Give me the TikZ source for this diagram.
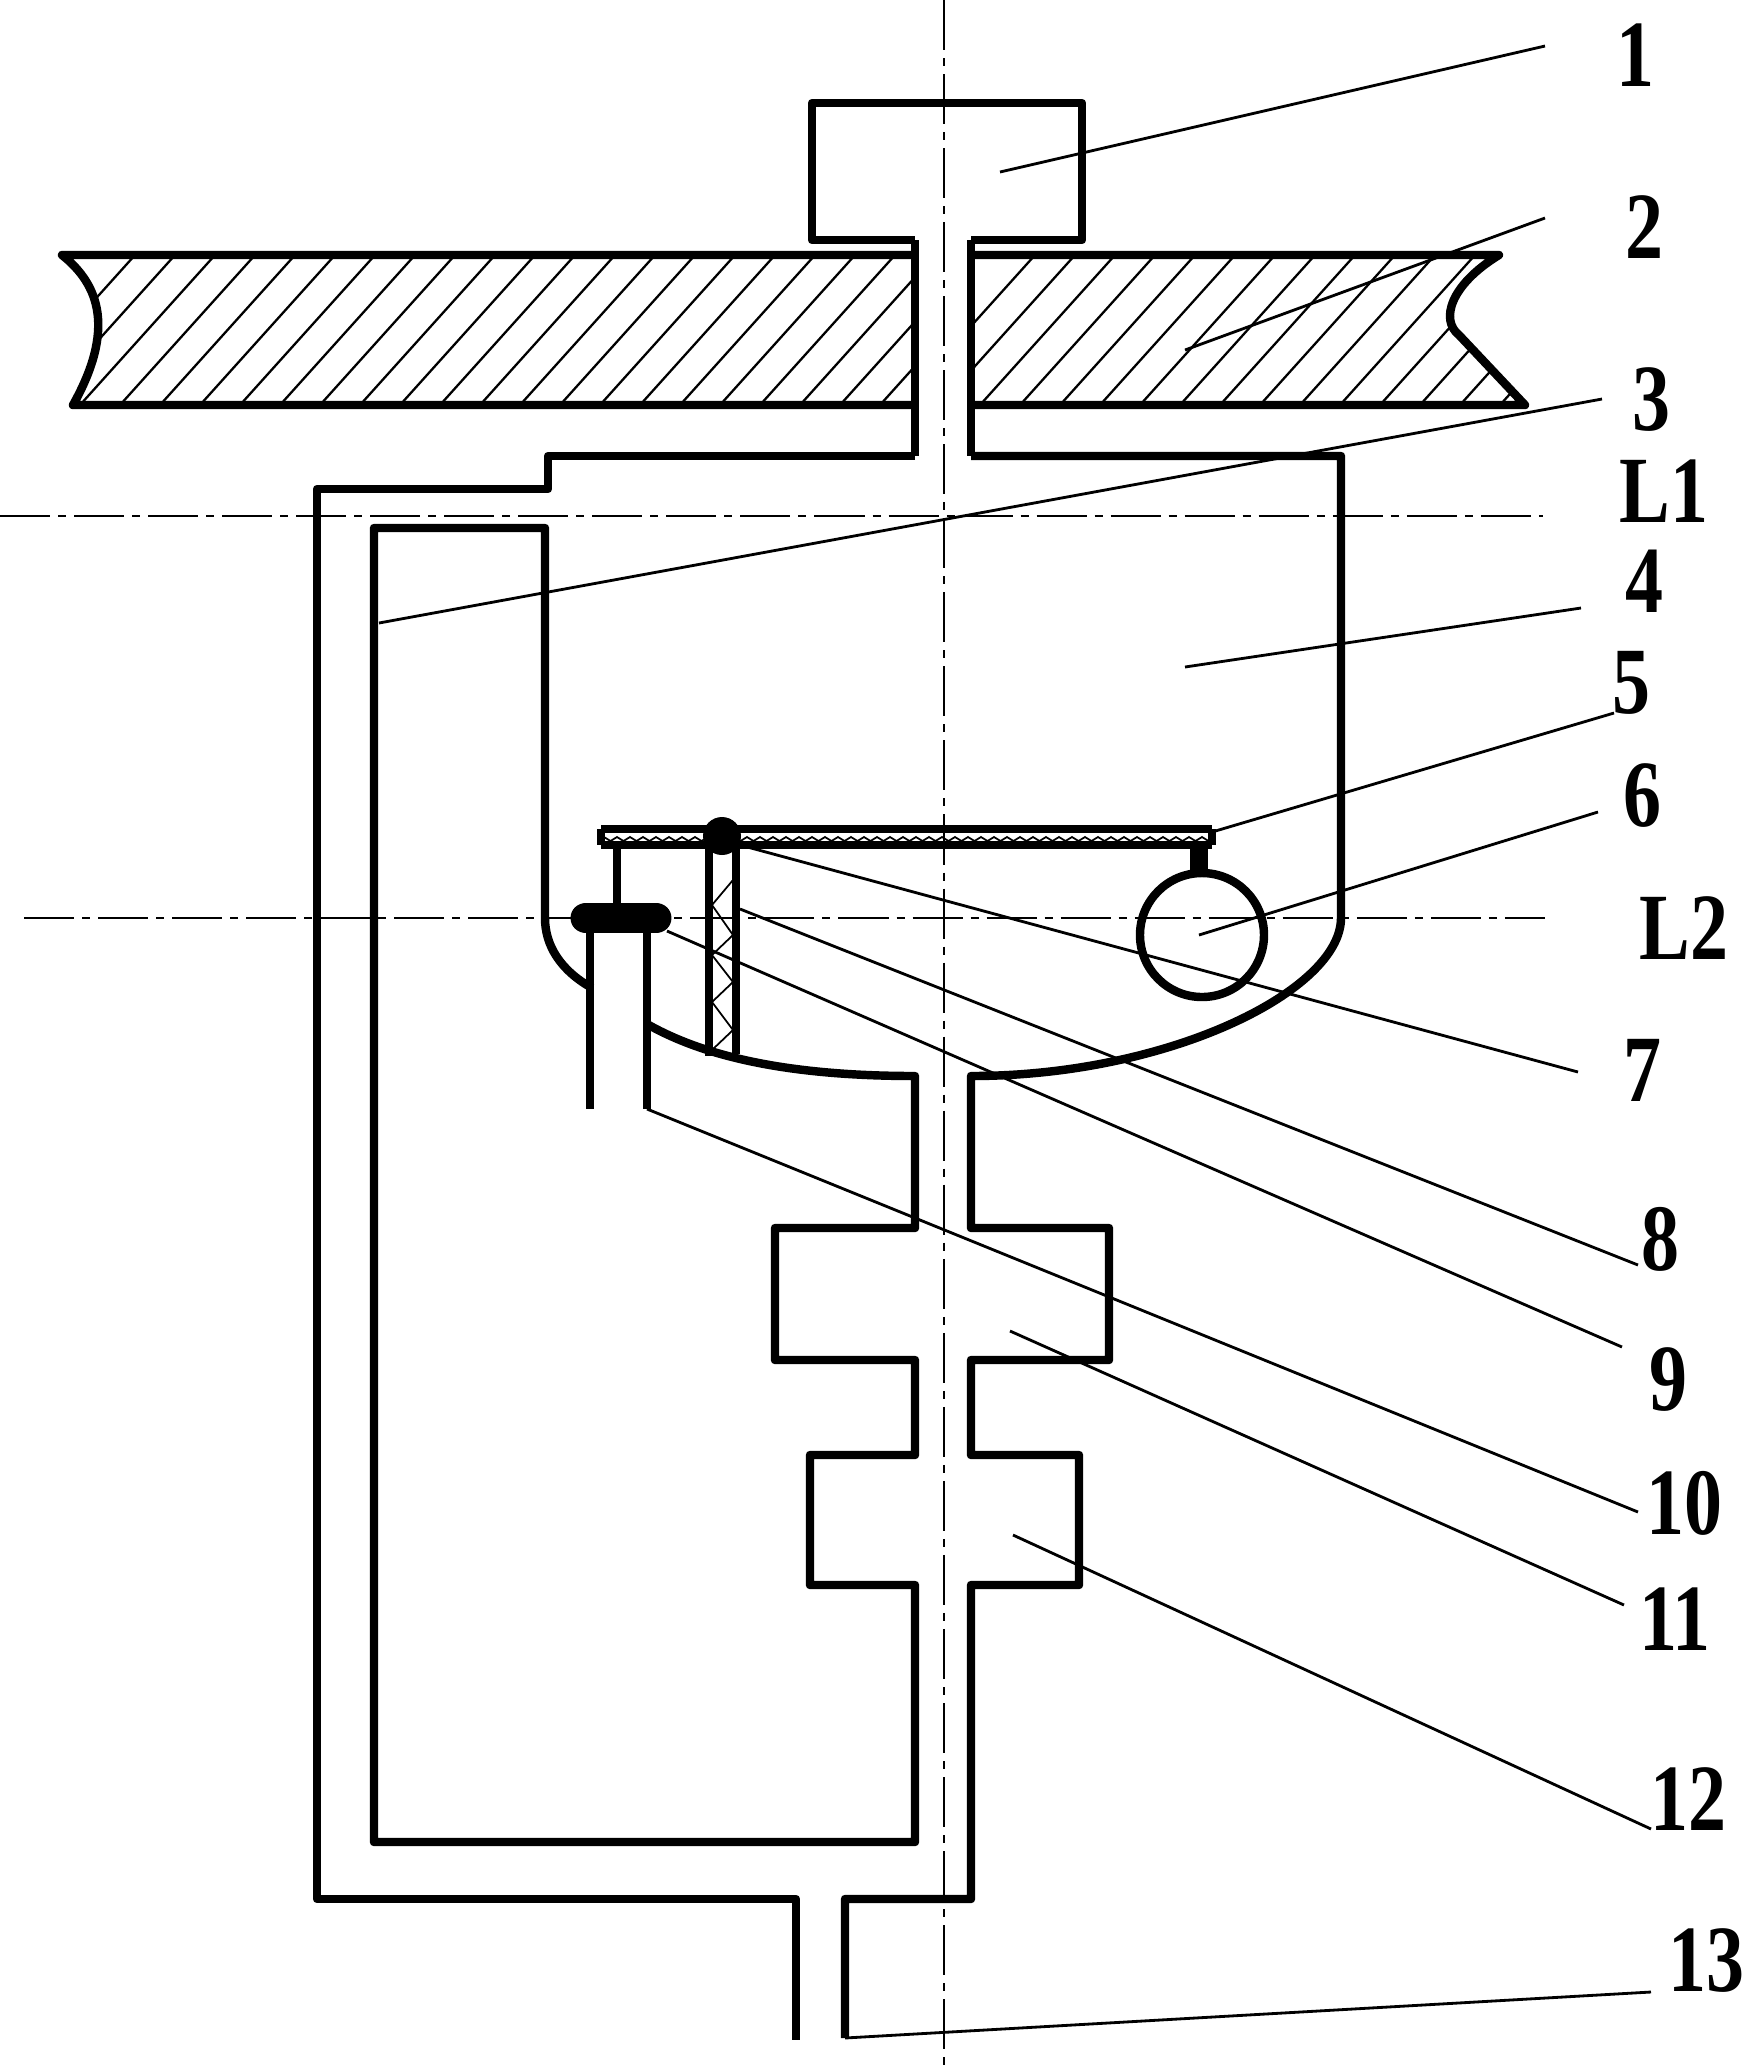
\documentclass[tikz,border=0pt]{standalone}
\usepackage{fontspec}
\setmainfont{Liberation Serif}
\tikzset{
	wall/.style={line width=2.4pt, line join=round},
	leader/.style={line width=0.8pt},
	hatching/.style={line width=0.65pt},
	center line/.style={line width=0.8pt, dash pattern=on 0.5cm off 0.08cm on 0.08cm off 0.08cm},
	num/.style={font=\fontsize{27}{27}\selectfont\bfseries, inner sep=0pt, xscale=0.8, transform shape},
}
\begin{document}
\begin{tikzpicture}[x=0.01cm, y=-0.01cm]
	\useasboundingbox (0,0) rectangle (1746,2071);
	%% hatching of the plate
	\begin{scope}
		\clip (62,255) .. controls (100,285) and (115,330) .. (73,405) -- (915,405) -- (915,255) -- cycle;
		\foreach \hx in {0,40,...,1000} \draw[hatching] (\hx,405) -- (\hx+135,255);
	\end{scope}
	\begin{scope}
		\clip (971,255) -- (1499,255) .. controls (1450,285) and (1440,320) .. (1459,335) -- (1525,405) -- (971,405) -- cycle;
		\foreach \hx in {900,940,...,1540} \draw[hatching] (\hx,405) -- (\hx+135,255);
	\end{scope}
	%% plate
	\draw[wall] (915,240) -- (915,456);
	\draw[wall] (971,240) -- (971,456);
	\draw[wall] (915,255) -- (62,255) .. controls (100,285) and (115,330) .. (73,405) -- (915,405);
	\draw[wall] (971,255) -- (1499,255) .. controls (1450,285) and (1440,320) .. (1459,335) -- (1525,405) -- (971,405);
	%% head
	\draw[wall] (915,240) -- (812,240) -- (812,103) -- (1082,103) -- (1082,240) -- (971,240);
	%% outer body
	\draw[wall] (915,456) -- (548,456) -- (548,489) -- (317,489) -- (317,1899) -- (796,1899) -- (796,2040);
	\draw[wall] (971,456) -- (1341,456) -- (1341,918) .. controls (1341,990) and (1170,1076) .. (971,1076) -- (971,1228) -- (1109,1228) -- (1109,1360) -- (971,1360) -- (971,1455) -- (1079,1455) -- (1079,1585) -- (971,1585) -- (971,1899) -- (845,1899) -- (845,2038);
	%% inner body
	\draw[wall] (592,988) .. controls (560,970) and (545,945) .. (545,918) -- (545,528) -- (374,528) -- (374,1842) -- (915,1842) -- (915,1585) -- (810,1585) -- (810,1455) -- (915,1455) -- (915,1360) -- (775,1360) -- (775,1228) -- (915,1228) -- (915,1076) .. controls (800,1076) and (710,1060) .. (647,1024);
	%% tube and float
	\draw[wall] (590,925) -- (590,1109);
	\draw[wall] (647,925) -- (647,1109);
	\draw[line width=8.8pt, line cap=round] (586,918) -- (656,918);
	\draw[wall] (617,845) -- (617,905);
	%% lever
	\draw[wall] (601,829) -- (1212,829);
	\draw[wall] (601,845) -- (1212,845);
	\draw[wall] (601,829) -- (601,845);
	\draw[wall] (1212,829) -- (1212,845);
	\draw[line width=0.5pt] (604,837) \foreach \zx in {0,1,...,46} {-- ++(6.5,4) -- ++(6.5,-4)};
	\draw[line width=5pt] (1199,845) -- (1199,873);
	\draw[wall] (1202,935) circle[radius=62];
	%% column
	\draw[wall] (709,845) -- (709,1056);
	\draw[wall] (736,845) -- (736,1054);
	\draw[line width=0.5pt] (712,1050) -- (733,1030) -- (712,1002) -- (733,982) -- (712,955) -- (733,935) -- (712,905) -- (733,880);
	\fill (722,836) circle[radius=19];
	%% center lines
	\draw[center line] (0,516) -- (1543,516);
	\draw[center line] (24,918) -- (1545,918);
	\draw[center line] (944,0) -- (944,2071);
	%% leaders
	\coordinate (a1) at (1545,46);
	\coordinate (b1) at (1000,172);
	\coordinate (a2) at (1545,218);
	\coordinate (b2) at (1185,350);
	\coordinate (a3) at (1602,399);
	\coordinate (b3) at (379,623);
	\coordinate (a4) at (1581,608);
	\coordinate (b4) at (1185,667);
	\coordinate (a5) at (1614,713);
	\coordinate (b5) at (1212,832);
	\coordinate (a6) at (1598,812);
	\coordinate (b6) at (1199,935);
	\coordinate (a7) at (1578,1072);
	\coordinate (b7) at (740,845);
	\coordinate (a8) at (1638,1265);
	\coordinate (b8) at (740,909);
	\coordinate (a9) at (1622,1347);
	\coordinate (b9) at (667,931);
	\coordinate (a10) at (1638,1512);
	\coordinate (b10) at (647,1109);
	\coordinate (a11) at (1624,1605);
	\coordinate (b11) at (1010,1331);
	\coordinate (a12) at (1651,1829);
	\coordinate (b12) at (1013,1535);
	\coordinate (a13) at (1651,1992);
	\coordinate (b13) at (845,2038);
	\draw[leader] (a1) -- (b1);
	\draw[leader] (a2) -- (b2);
	\draw[leader] (a3) -- (b3);
	\draw[leader] (a4) -- (b4);
	\draw[leader] (a5) -- (b5);
	\draw[leader] (a6) -- (b6);
	\draw[leader] (a7) -- (b7);
	\draw[leader] (a8) -- (b8);
	\draw[leader] (a9) -- (b9);
	\draw[leader] (a10) -- (b10);
	\draw[leader] (a11) -- (b11);
	\draw[leader] (a12) -- (b12);
	\draw[leader] (a13) -- (b13);
	%% labels
	\node[num] (n1) at (1635,55) {1};
	\node[num] (n2) at (1644,227) {2};
	\node[num] (n3) at (1651,400) {3};
	\node[num] (l1) at (1664,491) {L1};
	\node[num] (n4) at (1644,581) {4};
	\node[num] (n5) at (1631,683) {5};
	\node[num] (n6) at (1642,796) {6};
	\node[num] (l2) at (1684,928) {L2};
	\node[num] (n7) at (1642,1070) {7};
	\node[num] (n8) at (1660,1239) {8};
	\node[num] (n9) at (1668,1380) {9};
	\node[num] (n10) at (1684,1503) {10};
	\node[num] (n11) at (1675,1619) {11};
	\node[num] (n12) at (1688,1799) {12};
	\node[num] (n13) at (1706,1961) {13};
\end{tikzpicture}
\end{document}
